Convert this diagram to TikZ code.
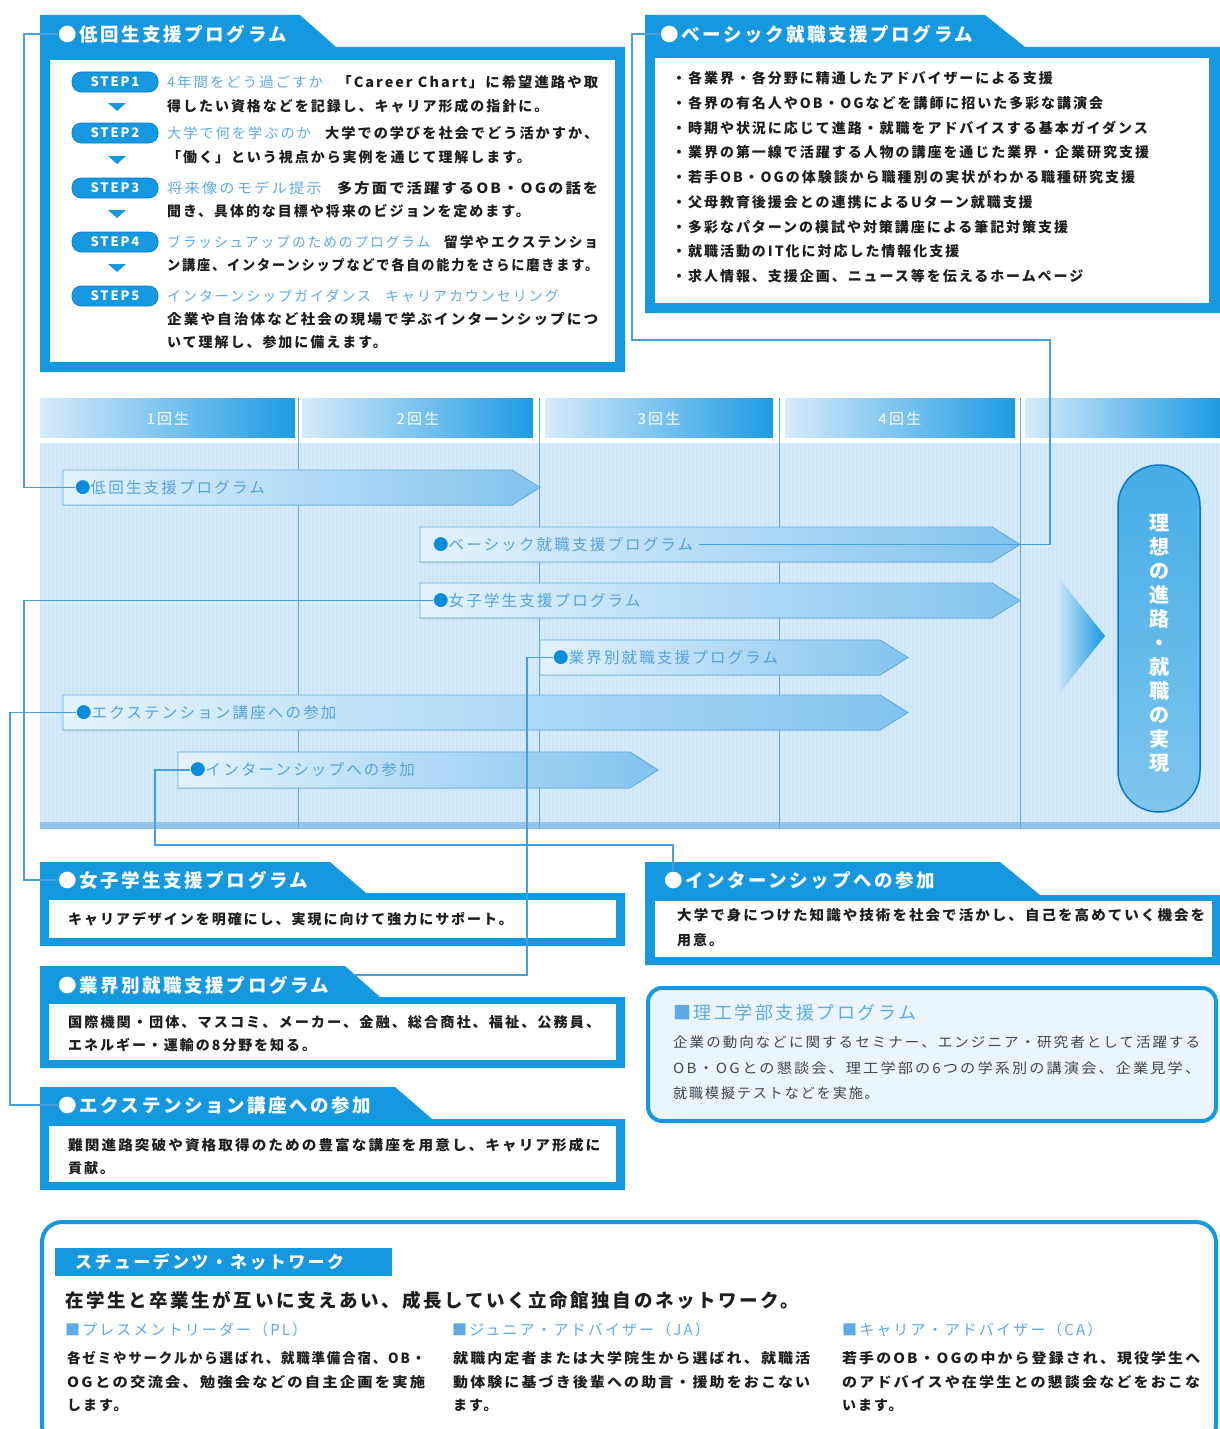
\documentclass[tikz,border=0pt]{standalone}
\usepackage{fontspec}
\usepackage{graphicx}
\setmainfont{Noto Sans CJK JP}[LetterSpace=14]
\newcommand\jline[2]{\resizebox{#1pt}{\height}{#2}}
\usetikzlibrary{calc}
\definecolor{mblue}{RGB}{22,152,224}
\definecolor{dblue}{RGB}{10,120,200}
\definecolor{lblue}{RGB}{95,170,230}
\definecolor{txt}{RGB}{30,30,30}
\definecolor{txt2}{RGB}{70,70,70}
\definecolor{tlbg}{RGB}{205,230,248}
\definecolor{cline}{RGB}{70,160,222}
\definecolor{bartxt}{RGB}{85,162,220}
\definecolor{bardot}{RGB}{10,140,220}
\definecolor{barL}{RGB}{228,243,253}
\definecolor{barR}{RGB}{130,195,238}
\definecolor{barB}{RGB}{100,175,228}
\definecolor{sepc}{RGB}{95,170,225}
\definecolor{cellL}{RGB}{215,235,250}
\definecolor{cellR}{RGB}{30,155,228}
\definecolor{riko}{RGB}{234,245,253}
\begin{document}
\begin{tikzpicture}[x=1pt,y=-1pt,
  tx/.style={anchor=west,inner sep=0pt,text=txt,font=\fontsize{14}{16}\selectfont\bfseries},
  txr/.style={anchor=west,inner sep=0pt,text=txt2,font=\fontsize{14}{16}\selectfont},
  hd/.style={anchor=west,inner sep=0pt,text=white,font=\fontsize{18.5}{20}\selectfont\bfseries},
  bl/.style={anchor=west,inner sep=0pt,text=bartxt,font=\fontsize{15.5}{18}\selectfont},
  yr/.style={inner sep=0pt,text=white,font=\fontsize{15}{16}\selectfont},
  subhd/.style={anchor=west,inner sep=0pt,text=lblue,font=\fontsize{15}{16}\selectfont},
  conn/.style={draw=cline,line width=1.1pt},
  barshape/.style={left color=barL,right color=barR,draw=barB,line width=0.9pt},
  sepline/.style={draw=sepc,line width=1pt},
  stepbadge/.style={fill=mblue,draw=dblue,line width=0.6pt,rounded corners=9pt,minimum width=86pt,minimum height=20pt,inner sep=0pt,text=white,font=\fontsize{13}{13}\selectfont\bfseries},
  yrcell/.style={left color=cellL,right color=cellR},
]
\useasboundingbox (0,0) rectangle (1220,1429);
\fill[white] (0,0) rectangle (1220,1429);

% ---------- top-left box
\fill[mblue] (40,15) -- (300,15) -- (336,47) -- (625,47) -- (625,372) -- (40,372) -- cycle;
\fill[white] (50,60) rectangle (615,362);
\node[hd] (h1) at (58,34) {●低回生支援プログラム};
\foreach \i/\y in {1/82,2/133,3/188,4/242,5/296}
  \node[stepbadge] (s\i) at (115,\y) {STEP\i};
\foreach \y in {103,156,210,264}
  \fill[mblue] (108,\y) -- (126,\y) -- (117,\y+8) -- cycle;
\node[tx] (t1a) at (167,82) {\jline{431}{{\mdseries\color{lblue}4年間をどう過ごすか}\hspace{1em}「Career Chart」に希望進路や取}};
\node[tx] (t1b) at (167,106) {得したい資格などを記録し、キャリア形成の指針に。};
\node[tx] (t2a) at (167,133) {\jline{431}{{\mdseries\color{lblue}大学で何を学ぶのか}\hspace{1em}大学での学びを社会でどう活かすか、}};
\node[tx] (t2b) at (167,157) {「働く」という視点から実例を通じて理解します。};
\node[tx] (t3a) at (167,188) {\jline{431}{{\mdseries\color{lblue}将来像のモデル提示}\hspace{1em}多方面で活躍するOB・OGの話を}};
\node[tx] (t3b) at (167,211) {聞き、具体的な目標や将来のビジョンを定めます。};
\node[tx] (t4a) at (167,242) {\jline{431}{{\mdseries\color{lblue}ブラッシュアップのためのプログラム}\hspace{1em}留学やエクステンショ}};
\node[tx] (t4b) at (167,265) {\jline{431}{ン講座、インターンシップなどで各自の能力をさらに磨きます。}};
\node[tx] (t5a) at (167,296) {{\mdseries\color{lblue}インターンシップガイダンス\hspace{1em}キャリアカウンセリング}};
\node[tx] (t5b) at (167,319) {\jline{431}{企業や自治体など社会の現場で学ぶインターンシップにつ}};
\node[tx] (t5c) at (167,342) {いて理解し、参加に備えます。};

% ---------- top-right box
\fill[mblue] (645,15) -- (985,15) -- (1025,47) -- (1220,47) -- (1220,313) -- (645,313) -- cycle;
\fill[white] (655,58) rectangle (1209,303);
\node[hd] (h2) at (660,34) {●ベーシック就職支援プログラム};
\foreach \n/\y/\t in {
  1/78/{・各業界・各分野に精通したアドバイザーによる支援},
  2/103/{・各界の有名人やOB・OGなどを講師に招いた多彩な講演会},
  3/128/{・時期や状況に応じて進路・就職をアドバイスする基本ガイダンス},
  4/152/{・業界の第一線で活躍する人物の講座を通じた業界・企業研究支援},
  5/177/{・若手OB・OGの体験談から職種別の実状がわかる職種研究支援},
  6/202/{・父母教育後援会との連携によるUターン就職支援},
  7/227/{・多彩なパターンの模試や対策講座による筆記対策支援},
  8/251/{・就職活動のIT化に対応した情報化支援},
  9/276/{・求人情報、支援企画、ニュース等を伝えるホームページ}}
  \node[tx] (r\n) at (672,\y) {\t};

% ---------- timeline
\fill[tlbg] (40,443) rectangle (1220,829);
\foreach \x in {43,47,...,1219}
  \draw[white,opacity=0.18,line width=1.6pt] (\x,443) -- (\x,822);
\fill[sepc!55!tlbg] (40,822) rectangle (1220,829);
\shade[yrcell] (40,398) rectangle (295,437);
\shade[yrcell] (302,398) rectangle (533,437);
\shade[yrcell] (545,398) rectangle (773,437);
\shade[yrcell] (785,398) rectangle (1015,437);
\shade[yrcell] (1025,398) rectangle (1220,437);
\node[yr] (y1) at (168,419) {1回生};
\node[yr] (y2) at (418,419) {2回生};
\node[yr] (y3) at (659,419) {3回生};
\node[yr] (y4) at (900,419) {4回生};
\foreach \x in {298,539,779,1020}
  \draw[sepline] (\x,398) -- (\x,829);

% bars
\filldraw[barshape] (63,470) -- (512,470) -- (540,487.5) -- (512,505) -- (63,505) -- cycle;
\filldraw[barshape] (420,527) -- (992,527) -- (1020,544.5) -- (992,562) -- (420,562) -- cycle;
\filldraw[barshape] (420,583) -- (992,583) -- (1020,600.5) -- (992,618) -- (420,618) -- cycle;
\filldraw[barshape] (540,640) -- (880,640) -- (908,657.5) -- (880,675) -- (540,675) -- cycle;
\filldraw[barshape] (63,695) -- (880,695) -- (908,712.5) -- (880,730) -- (63,730) -- cycle;
\filldraw[barshape] (178,752) -- (630,752) -- (658,770) -- (630,788) -- (178,788) -- cycle;
\node[bl] (b1lab) at (75,487.5) {{\color{bardot}●}低回生支援プログラム};
\node[bl] (b2lab) at (433,544.5) {{\color{bardot}●}ベーシック就職支援プログラム};
\node[bl] (b3lab) at (433,600.5) {{\color{bardot}●}女子学生支援プログラム};
\node[bl] (b4lab) at (553,657.5) {{\color{bardot}●}業界別就職支援プログラム};
\node[bl] (b5lab) at (76,712.5) {{\color{bardot}●}エクステンション講座への参加};
\node[bl] (b6lab) at (190,770) {{\color{bardot}●}インターンシップへの参加};

% goal
\shade[left color=tlbg,right color=mblue] (1058,577) -- (1105,636) -- (1058,695) -- cycle;
\shade[top color=mblue!80,bottom color=mblue!55,rounded corners=41pt]
  (1118,465) rectangle (1200,812);
\draw[dblue,line width=1.5pt,rounded corners=41pt] (1118,465) rectangle (1200,812);
\node[inner sep=0pt,text=white,align=center,font=\fontsize{20}{24}\selectfont\bfseries] (goal) at (1159,643)
  {理\\想\\の\\進\\路\\・\\就\\職\\の\\実\\現};

% ---------- bottom-left boxes
\fill[mblue] (40,862) -- (330,862) -- (366,893) -- (625,893) -- (625,946) -- (40,946) -- cycle;
\fill[white] (49,900) rectangle (616,938);
\node[hd] (h3) at (58,880) {●女子学生支援プログラム};
\node[tx] (j1) at (68,919) {キャリアデザインを明確にし、実現に向けて強力にサポート。};

\fill[mblue] (40,966) -- (345,966) -- (380,997) -- (625,997) -- (625,1068) -- (40,1068) -- cycle;
\fill[white] (49,1004) rectangle (616,1060);
\node[hd] (h4) at (58,985) {●業界別就職支援プログラム};
\node[tx] (g1) at (68,1022) {\jline{532}{国際機関・団体、マスコミ、メーカー、金融、総合商社、福祉、公務員、}};
\node[tx] (g2) at (68,1045) {エネルギー・運輸の8分野を知る。};
\coordinate (c4) at (355,975);

\fill[mblue] (40,1087) -- (395,1087) -- (432,1119) -- (625,1119) -- (625,1190) -- (40,1190) -- cycle;
\fill[white] (49,1126) rectangle (616,1182);
\node[hd] (h5) at (58,1105) {●エクステンション講座への参加};
\node[tx] (e1) at (68,1145) {\jline{532}{難関進路突破や資格取得のための豊富な講座を用意し、キャリア形成に}};
\node[tx] (e2) at (68,1168) {貢献。};

% ---------- bottom-right boxes
\fill[mblue] (645,862) -- (1000,862) -- (1040,895) -- (1220,895) -- (1220,965) -- (645,965) -- cycle;
\fill[white] (655,901) rectangle (1212,957);
\node[hd] (h6) at (664,880) {●インターンシップへの参加};
\node[tx] (i1) at (677,915) {\jline{528}{大学で身につけた知識や技術を社会で活かし、自己を高めていく機会を}};
\node[tx] (i2) at (677,940) {用意。};
\coordinate (c6) at (673,845);
\coordinate (h6dot) at (673,872);

\draw[mblue,line width=4pt,fill=riko,rounded corners=14pt] (648,988) rectangle (1216,1121);
\node[anchor=west,inner sep=0pt,text=lblue,font=\fontsize{18}{20}\selectfont] (rk) at (673,1013) {■理工学部支援プログラム};
\node[txr] (rk1) at (673,1042) {\jline{527}{企業の動向などに関するセミナー、エンジニア・研究者として活躍する}};
\node[txr] (rk2) at (673,1068) {\jline{527}{OB・OG\,との懇談会、理工学部の6つの学系別の講演会、企業見学、}};
\node[txr] (rk3) at (673,1093) {就職模擬テストなどを実施。};

% ---------- student network
\draw[mblue,line width=4pt,fill=white,rounded corners=20pt] (42,1222) rectangle (1216,1445);
\fill[mblue] (55,1248) rectangle (392,1276);
\node[anchor=west,inner sep=0pt,text=white,font=\fontsize{17}{18}\selectfont\bfseries] (sn) at (75,1262) {スチューデンツ・ネットワーク};
\node[anchor=west,inner sep=0pt,text=txt,font=\fontsize{18.5}{20}\selectfont\bfseries] (snm) at (65,1300) {在学生と卒業生が互いに支えあい、成長していく立命館独自のネットワーク。};
\node[subhd] (pl) at (65,1330) {■プレスメントリーダー（PL）};
\node[subhd] (ja) at (452,1330) {■ジュニア・アドバイザー（JA）};
\node[subhd] (ca) at (842,1330) {■キャリア・アドバイザー（CA）};
\node[tx] (pl1) at (67,1358) {\jline{358}{各ゼミやサークルから選ばれ、就職準備合宿、OB・}};
\node[tx] (pl2) at (67,1382) {\jline{358}{OG\,との交流会、勉強会などの自主企画を実施}};
\node[tx] (pl3) at (67,1405) {します。};
\node[tx] (ja1) at (453,1358) {\jline{357}{就職内定者または大学院生から選ばれ、就職活}};
\node[tx] (ja2) at (453,1382) {\jline{357}{動体験に基づき後輩への助言・援助をおこない}};
\node[tx] (ja3) at (453,1405) {ます。};
\node[tx] (ca1) at (842,1358) {\jline{358}{若手のOB・OGの中から登録され、現役学生へ}};
\node[tx] (ca2) at (842,1382) {\jline{358}{のアドバイスや在学生との懇談会などをおこな}};
\node[tx] (ca3) at (842,1405) {います。};

% ---------- connectors
\draw[conn] (h1.west) -- ++(-34,0) |- (b1lab.west);
\draw[conn] (h2.west) -| (632,340) -- (1050,340) |- ($(b2lab.east)+(6,0)$);
\draw[conn] (b3lab.west) -- ++(-409,0) |- (h3.west);
\draw[conn] (b4lab.west) -- ++(-26,0) |- (c4);
\draw[conn] (b5lab.west) -- ++(-66,0) |- (h5.west);
\draw[conn] (b6lab.west) -- ++(-35,0) |- (c6) -- (h6dot);
\end{tikzpicture}
\end{document}
